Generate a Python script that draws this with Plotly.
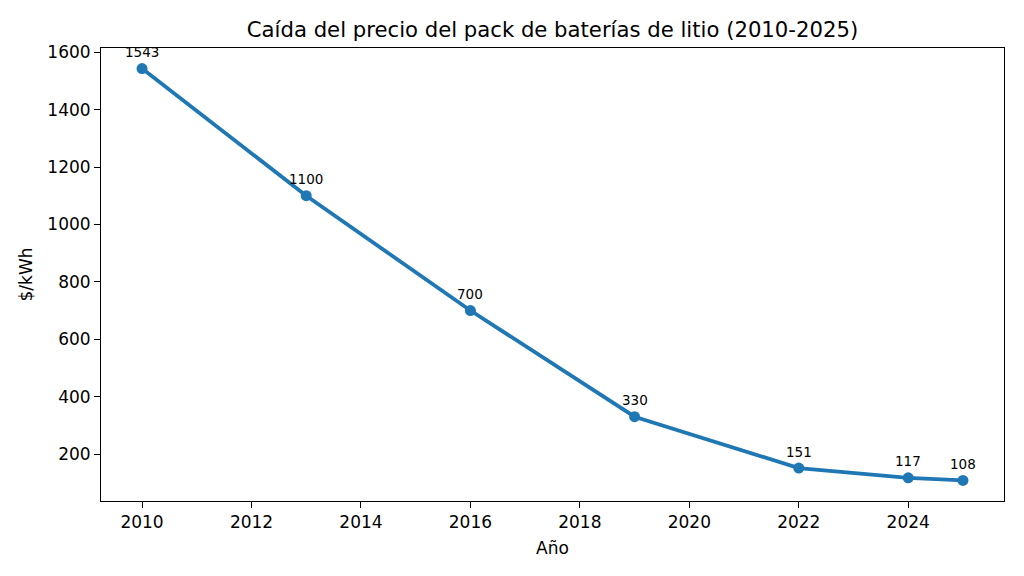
import plotly.graph_objects as go

years = [2010, 2013, 2016, 2019, 2022, 2024, 2025]
prices = [1543, 1100, 700, 330, 151, 117, 108]
x_ticks = [2010, 2012, 2014, 2016, 2018, 2020, 2022, 2024]
y_ticks = [200, 400, 600, 800, 1000, 1200, 1400, 1600]

FONT = "DejaVu Sans"

fig = go.Figure()
fig.add_trace(go.Scatter(
    x=years, y=prices, mode="lines+markers",
    line=dict(color="#1f77b4", width=3.8),
    marker=dict(color="#1f77b4", size=11),
    hoverinfo="skip", showlegend=False,
))
for xv, yv in zip(years, prices):
    fig.add_annotation(x=xv, y=yv, text=str(yv), showarrow=False,
                       yshift=16.5, font=dict(family=FONT, size=13.5, color="black"))

axis_common = dict(
    showline=True, linecolor="black", linewidth=1, mirror=True,
    ticks="outside", ticklen=6, tickwidth=1, tickcolor="black",
    showgrid=False, zeroline=False,
    tickfont=dict(family=FONT, size=17, color="black"),
)

fig.update_layout(
    width=1024, height=576,
    margin=dict(l=101, r=20, t=48, b=75),
    plot_bgcolor="white", paper_bgcolor="white",
    title=dict(text="Caída del precio del pack de baterías de litio (2010-2025)",
               x=0.5, xanchor="center", xref="paper", y=0.935, yanchor="bottom",
               font=dict(family=FONT, size=21.2, color="black")),
    xaxis=dict(range=[2009.25, 2025.75], tickvals=x_ticks,
               title=dict(text="Año", font=dict(family=FONT, size=17, color="black"), standoff=10),
               **axis_common),
    yaxis=dict(range=[36.25, 1614.75], tickvals=y_ticks,
               title=dict(text="$/kWh", font=dict(family=FONT, size=17, color="black"), standoff=10),
               **axis_common),
)

fig.write_html("out.html")
